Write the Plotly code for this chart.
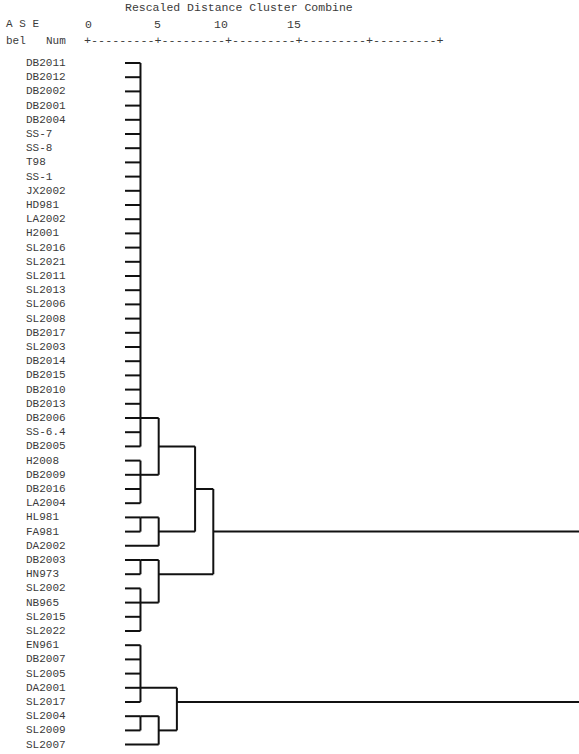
import plotly.graph_objects as go

# ---- data ----
labels = ["DB2011", "DB2012", "DB2002", "DB2001", "DB2004", "SS-7", "SS-8", "T98", "SS-1", "JX2002",
          "HD981", "LA2002", "H2001", "SL2016", "SL2021", "SL2011", "SL2013", "SL2006", "SL2008", "DB2017",
          "SL2003", "DB2014", "DB2015", "DB2010", "DB2013", "DB2006", "SS-6.4", "DB2005", "H2008", "DB2009",
          "DB2016", "LA2004", "HL981", "FA981", "DA2002", "DB2003", "HN973", "SL2002", "NB965", "SL2015",
          "SL2022", "EN961", "DB2007", "SL2005", "DA2001", "SL2017", "SL2004", "SL2009", "SL2007"]

# merges: name, children (int = leaf row, str = earlier merge), rescaled distance, row of outgoing line
merge_names = ["A", "B", "AB", "C1", "C", "ABC", "D1", "D2", "D", "ABCD", "E1", "F1", "F", "EF", "ALL"]
merge_children = [
    list(range(1, 29)),
    [29, 30, 31, 32],
    ["A", "B"],
    [33, 34],
    ["C1", 35],
    ["AB", "C"],
    [36, 37],
    [38, 39, 40, 41],
    ["D1", "D2"],
    ["ABC", "D"],
    [42, 43, 44, 45, 46],
    [47, 48],
    ["F1", 49],
    ["E1", "F"],
    ["ABCD", "EF"],
]
merge_dist = [0.85, 0.85, 1.85, 0.85, 1.85, 3.85, 0.85, 0.85, 1.85, 4.85, 0.85, 0.85, 1.85, 2.85, 25.0]
merge_row = [26, 30, 28, 33, 34, 31, 36, 39, 37, 34, 45, 47, 48, 46, 40]

header_title = "Rescaled Distance Cluster Combine"
scale_ticks = ["0", "5", "10", "15"]
dash_rule = "+---------+---------+---------+---------+---------+"

# ---- build segments ----
info = {}
xs, ys = [], []
for name, kids, d, r in zip(merge_names, merge_children, merge_dist, merge_row):
    kid_rows = []
    for k in kids:
        if isinstance(k, int):
            x0, y0 = 0.0, k
        else:
            x0, y0 = info[k]
        xs += [x0, d, None]
        ys += [y0, y0, None]
        kid_rows.append(y0)
    xs += [d, d, None]
    ys += [min(kid_rows), max(kid_rows), None]
    info[name] = (d, r)

W, H = 579, 754
L, R, T, B = 115, 0, 55, 0
row_px = 14.2
first_row_px = 63
r0 = 1 - (first_row_px - T) / row_px
r1 = r0 + (H - T - B) / row_px

fig = go.Figure()
fig.add_trace(go.Scatter(x=xs, y=ys, mode="lines",
                         line=dict(color="#111111", width=2),
                         hoverinfo="skip", showlegend=False))

def px_x(p):
    return (p - L) / (W - L - R)

def px_y(p):
    return 1 - (p - T) / (H - T - B)

mono = "Liberation Mono"
ann = []
for i, lab in enumerate(labels):
    ann.append(dict(x=px_x(24), xref="paper", y=i + 1, yref="y", text=lab,
                    showarrow=False, xanchor="left", yanchor="middle",
                    font=dict(family=mono, size=11, color="#3a3a3a")))

ann.append(dict(x=px_x(123), xref="paper", y=px_y(8), yref="paper", text=header_title,
                showarrow=False, xanchor="left", yanchor="middle",
                font=dict(family=mono, size=11.5, color="#3a3a3a")))
ann.append(dict(x=px_x(4), xref="paper", y=px_y(24), yref="paper", text="A S E",
                showarrow=False, xanchor="left", yanchor="middle",
                font=dict(family=mono, size=11, color="#3a3a3a")))
for t, p in zip(scale_ticks, [88, 157, 221, 294]):
    ann.append(dict(x=px_x(p), xref="paper", y=px_y(24), yref="paper", text=t,
                    showarrow=False, xanchor="center", yanchor="middle",
                    font=dict(family=mono, size=11.5, color="#3a3a3a")))
ann.append(dict(x=px_x(4), xref="paper", y=px_y(41), yref="paper", text="bel",
                showarrow=False, xanchor="left", yanchor="middle",
                font=dict(family=mono, size=11, color="#3a3a3a")))
ann.append(dict(x=px_x(44), xref="paper", y=px_y(41), yref="paper", text="Num",
                showarrow=False, xanchor="left", yanchor="middle",
                font=dict(family=mono, size=11, color="#3a3a3a")))
ann.append(dict(x=px_x(82), xref="paper", y=px_y(41), yref="paper", text=dash_rule,
                showarrow=False, xanchor="left", yanchor="middle",
                font=dict(family=mono, size=11.75, color="#3a3a3a")))

fig.update_layout(
    width=W, height=H,
    margin=dict(l=L, r=R, t=T, b=B, pad=0),
    paper_bgcolor="white", plot_bgcolor="white",
    xaxis=dict(range=[-0.55, 24.94], visible=False, fixedrange=True),
    yaxis=dict(range=[r1, r0], visible=False, fixedrange=True),
    annotations=ann,
    showlegend=False,
)

fig.write_html(
    "out.html",
    config={"displayModeBar": False},
    post_script="document.body.style.margin='0';document.body.style.padding='0';"
                "document.documentElement.style.overflow='hidden';",
)
